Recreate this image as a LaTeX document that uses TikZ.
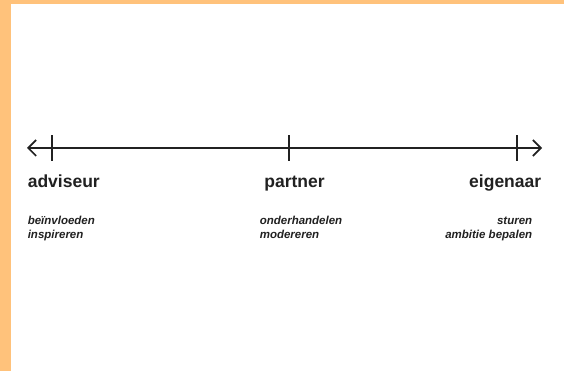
\documentclass[tikz,border=0pt]{standalone}
\usepackage{fontspec}
\setmainfont{Liberation Sans}
\usetikzlibrary{positioning, arrows.meta}
\tikzset{>={Straight Barb[length=8pt, width=16pt]}}
\definecolor{myorange}{HTML}{FFC27B}
\colorlet{myink}{black!87}

\begin{document}
\begin{tikzpicture}[x=1pt, y=-1pt, line width=1.6pt,
  role/.style={font=\bfseries\fontsize{17.5}{20}\selectfont, text=myink, inner sep=0},
  task/.style={font=\bfseries\itshape\fontsize{11.5}{13.5}\selectfont, text=myink, inner sep=0}]
  % frame
  \fill[myorange] (0,0) rectangle (564,371);
  \fill[white] (11,4) rectangle (564,371);
  \useasboundingbox (0,0) rectangle (564,371);

  % axis
  \coordinate (left) at (27,148);
  \coordinate (right) at (542,148);
  \coordinate (t1) at (52,148);
  \coordinate (t2) at (289,148);
  \coordinate (t3) at (517,148);
  \draw[<->, myink] (left) -- (right);
  \foreach \t in {t1, t2, t3}
    \draw[myink] ([yshift=-13pt]\t) -- ([yshift=13pt]\t);

  % roles
  \node[role, anchor=base west] (adviseur) at (27,188) {adviseur};
  \node[role, anchor=base] (partner) at (294.5,188) {partner};
  \node[role, anchor=base east] (eigenaar) at (542,188) {eigenaar};

  % tasks (anchor on the last line)
  \node[task, anchor=base west, align=left] (adv) at (27,238.5) {beïnvloeden\\inspireren};
  \node[task, anchor=base west, align=left] (par) at (259,238.5) {onderhandelen\\modereren};
  \node[task, anchor=base east, align=right] (eig) at (533,238.5) {sturen\\ambitie bepalen};
\end{tikzpicture}
\end{document}
